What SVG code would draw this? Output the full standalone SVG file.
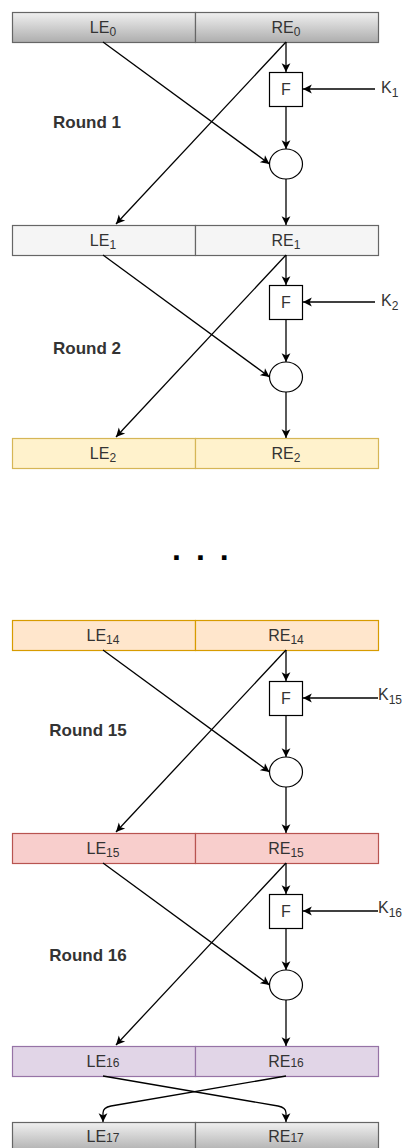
<svg xmlns="http://www.w3.org/2000/svg" width="409" height="1148" viewBox="0 0 409 1148">
<style>
  .lbl{font-family:"Liberation Sans",Arial,sans-serif;font-size:16px;fill:#333;text-anchor:middle}
  .sub{font-size:12px}
  .k{font-family:"Liberation Sans",Arial,sans-serif;font-size:16px;fill:#333}
  .rnd{font-family:"Liberation Sans",Arial,sans-serif;font-size:17px;font-weight:bold;fill:#333;text-anchor:middle}
  .fbox{fill:#fff;stroke:#000;stroke-width:1.2}
  .xor{fill:#fff;stroke:#000;stroke-width:1.2}
  .c{fill:none;stroke:#000;stroke-width:1.3;marker-end:url(#arr)}
  .g0{fill:url(#gray);stroke:#666;stroke-width:1.2}
  .g1{fill:#f5f5f5;stroke:#666;stroke-width:1.2}
  .y{fill:#fff2cc;stroke:#d6b656;stroke-width:1.2}
  .o{fill:#ffe6cc;stroke:#d79b00;stroke-width:1.2}
  .r{fill:#f8cecc;stroke:#b85450;stroke-width:1.2}
  .p{fill:#e1d5e7;stroke:#9673a6;stroke-width:1.2}
</style>
<defs>
  <linearGradient id="gray" x1="0" y1="0" x2="0" y2="1">
    <stop offset="0" stop-color="#f0f0f0"/>
    <stop offset="1" stop-color="#adadad"/>
  </linearGradient>
  <marker id="arr" markerUnits="userSpaceOnUse" viewBox="0 0 10 10" refX="9" refY="5" markerWidth="11" markerHeight="11" orient="auto">
    <path d="M1,1 L9,5 L1,9 L3,5 Z" fill="#000"/>
  </marker>
</defs>

<!-- Rows -->
<g id="row0">
  <rect class="g0" x="12.5" y="12.5" width="183" height="30"/>
  <rect class="g0" x="195.5" y="12.5" width="183" height="30"/>
  <text class="lbl" x="103" y="33">LE<tspan class="sub" dy="3">0</tspan></text>
  <text class="lbl" x="286" y="33">RE<tspan class="sub" dy="3">0</tspan></text>
</g>
<g id="row1">
  <rect class="g1" x="12.5" y="225.5" width="183" height="30"/>
  <rect class="g1" x="195.5" y="225.5" width="183" height="30"/>
  <text class="lbl" x="103" y="246">LE<tspan class="sub" dy="3">1</tspan></text>
  <text class="lbl" x="286" y="246">RE<tspan class="sub" dy="3">1</tspan></text>
</g>
<g id="row2">
  <rect class="y" x="12.5" y="438.5" width="183" height="30"/>
  <rect class="y" x="195.5" y="438.5" width="183" height="30"/>
  <text class="lbl" x="103" y="459">LE<tspan class="sub" dy="3">2</tspan></text>
  <text class="lbl" x="286" y="459">RE<tspan class="sub" dy="3">2</tspan></text>
</g>
<g id="dots">
  <text x="172" y="560" style="font-family:'Liberation Sans',Arial,sans-serif;font-size:32px;font-weight:bold;letter-spacing:15px;fill:#000">...</text>
</g>
<g id="row14">
  <rect class="o" x="12.5" y="620.5" width="183" height="30"/>
  <rect class="o" x="195.5" y="620.5" width="183" height="30"/>
  <text class="lbl" x="103" y="641">LE<tspan class="sub" dy="3">14</tspan></text>
  <text class="lbl" x="286" y="641">RE<tspan class="sub" dy="3">14</tspan></text>
</g>
<g id="row15">
  <rect class="r" x="12.5" y="833.5" width="183" height="30"/>
  <rect class="r" x="195.5" y="833.5" width="183" height="30"/>
  <text class="lbl" x="103" y="854">LE<tspan class="sub" dy="3">15</tspan></text>
  <text class="lbl" x="286" y="854">RE<tspan class="sub" dy="3">15</tspan></text>
</g>
<g id="row16">
  <rect class="p" x="12.5" y="1046.5" width="183" height="30"/>
  <rect class="p" x="195.5" y="1046.5" width="183" height="30"/>
  <text class="lbl" x="103" y="1067">LE<tspan class="sub">16</tspan></text>
  <text class="lbl" x="286" y="1067">RE<tspan class="sub">16</tspan></text>
</g>
<g id="row17">
  <rect class="g0" x="12.5" y="1122.5" width="183" height="30"/>
  <rect class="g0" x="195.5" y="1122.5" width="183" height="30"/>
  <text class="lbl" x="103" y="1142">LE<tspan class="sub">17</tspan></text>
  <text class="lbl" x="286" y="1142">RE<tspan class="sub">17</tspan></text>
</g>

<!-- Round labels -->
<g id="round1"><text class="rnd" x="87" y="128">Round 1</text></g>
<g id="round2"><text class="rnd" x="87" y="354">Round 2</text></g>
<g id="round15"><text class="rnd" x="88" y="736">Round 15</text></g>
<g id="round16"><text class="rnd" x="88" y="961">Round 16</text></g>

<!-- F boxes -->
<g id="F1"><rect class="fbox" x="269.5" y="72.5" width="33" height="34"/><text class="lbl" x="286" y="95">F</text></g>
<g id="F2"><rect class="fbox" x="269.5" y="285.5" width="33" height="34"/><text class="lbl" x="286" y="308">F</text></g>
<g id="F15"><rect class="fbox" x="269.5" y="681.5" width="33" height="34"/><text class="lbl" x="286" y="704">F</text></g>
<g id="F16"><rect class="fbox" x="269.5" y="894.5" width="33" height="34"/><text class="lbl" x="286" y="917">F</text></g>

<!-- XOR circles -->
<g id="X1"><ellipse class="xor" cx="286" cy="164" rx="16.5" ry="15"/></g>
<g id="X2"><ellipse class="xor" cx="286" cy="377" rx="16.5" ry="15"/></g>
<g id="X15"><ellipse class="xor" cx="286" cy="772" rx="16.5" ry="15"/></g>
<g id="X16"><ellipse class="xor" cx="286" cy="985" rx="16.5" ry="15"/></g>

<!-- Keys -->
<g id="K1"><text class="k" x="381" y="93">K<tspan class="sub" dy="4">1</tspan></text></g>
<g id="K2"><text class="k" x="381" y="306">K<tspan class="sub" dy="4">2</tspan></text></g>
<g id="K15"><text class="k" x="378" y="700">K<tspan class="sub" dy="4">15</tspan></text></g>
<g id="K16"><text class="k" x="378" y="913">K<tspan class="sub" dy="4">16</tspan></text></g>

<!-- Connectors -->
<g id="connectors">
  <!-- round 1, T=12 -->
  <path class="c" d="M286,42 V72"/>
  <path class="c" d="M375,89 H303"/>
  <path class="c" d="M286,106 V149"/>
  <path class="c" d="M103,42 L269.5,164"/>
  <path class="c" d="M286,42 L116,224"/>
  <path class="c" d="M286,179 V225"/>
  <!-- round 2, T=225 -->
  <path class="c" d="M286,255 V285"/>
  <path class="c" d="M375,302 H303"/>
  <path class="c" d="M286,319 V362"/>
  <path class="c" d="M103,255 L269.5,377"/>
  <path class="c" d="M286,255 L116,437"/>
  <path class="c" d="M286,392 V438"/>
  <!-- round 15, T=620 -->
  <path class="c" d="M286,650 V681"/>
  <path class="c" d="M378,698 H303"/>
  <path class="c" d="M286,715 V757"/>
  <path class="c" d="M103,650 L269.5,772"/>
  <path class="c" d="M286,650 L116,832"/>
  <path class="c" d="M286,787 V833"/>
  <!-- round 16, T=833 -->
  <path class="c" d="M286,863 V894"/>
  <path class="c" d="M378,911 H303"/>
  <path class="c" d="M286,928 V970"/>
  <path class="c" d="M103,863 L269.5,985"/>
  <path class="c" d="M286,863 L116,1045"/>
  <path class="c" d="M286,1000 V1046"/>
  <!-- final swap -->
  <path class="c" d="M103,1076 L278,1106 Q286,1107.5 286,1113 V1122"/>
  <path class="c" d="M286,1076 L111,1106 Q103,1107.5 103,1113 V1122"/>
</g>
</svg>
